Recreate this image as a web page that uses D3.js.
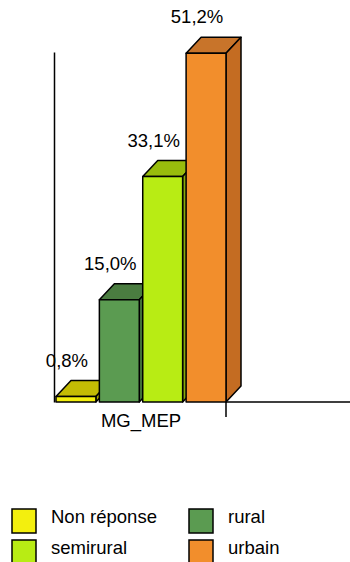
<!DOCTYPE html>
<html>
<head>
<meta charset="utf-8">
<script src="https://cdn.jsdelivr.net/npm/d3@7"></script>
<style>
  body { margin: 0; background: #fff; }
  text { font-family: "Liberation Sans", Arial, sans-serif; fill: #000; }
</style>
</head>
<body>
<div id="chart"></div>
<script>
const categories = ['Non réponse', 'rural', 'semirural', 'urbain'];
const values = [0.8, 15.0, 33.1, 51.2];
const valueLabels = ['0,8%', '15,0%', '33,1%', '51,2%'];
const groupLabel = 'MG_MEP';
const frontColors = ['#f3ef0e', '#5b9b51', '#b8ec14', '#f28e2c'];
const topColors = ['#c4bc04', '#4a7c40', '#98bc0c', '#c8742a'];
const sideColors = ['#aea800', '#437239', '#88aa0a', '#c46c22'];

const width = 350, height = 562;
const depthX = 15, depthY = 16;

const svg = d3.select('#chart')
    .append('svg')
    .attr('width', width)
    .attr('height', height);

const x = d3.scaleBand()
    .domain(categories)
    .range([56, 226])
    .paddingInner(0.08);

const y = d3.scaleLinear()
    .domain([0, 51.4])
    .range([402, 52]);

// vertical axis (no ticks)
svg.append('g')
    .attr('transform', 'translate(54,0)')
    .call(d3.axisLeft(y).tickValues([]).tickSizeOuter(0))
    .select('.domain')
        .attr('stroke', '#000')
        .attr('stroke-width', 1.5);

// floor line to the right of the bars, with its end tick
const xEnd = x.range()[1];
svg.append('path')
    .attr('d', `M${xEnd},${y(0) + 15}V${y(0)}H${width}`)
    .attr('fill', 'none')
    .attr('stroke', '#000')
    .attr('stroke-width', 1.5);

const bars = svg.selectAll('g.bar')
    .data(categories)
    .enter()
        .append('g')
        .attr('class', 'bar');

bars.each(function(d, i) {
    const g = d3.select(this);
    const x0 = x(d), x1 = x(d) + x.bandwidth();
    const yt = y(values[i]), yb = y(0);

    g.append('path')
        .attr('d', `M${x0},${yt}L${x0 + depthX},${yt - depthY}L${x1 + depthX},${yt - depthY}L${x1},${yt}Z`)
        .attr('fill', topColors[i]);
    g.append('path')
        .attr('d', `M${x1},${yt}L${x1 + depthX},${yt - depthY}L${x1 + depthX},${yb - depthY}L${x1},${yb}Z`)
        .attr('fill', sideColors[i]);
    g.append('rect')
        .attr('x', x0)
        .attr('y', yt)
        .attr('width', x.bandwidth())
        .attr('height', yb - yt)
        .attr('fill', frontColors[i]);
    g.selectAll('path, rect')
        .attr('stroke', '#000')
        .attr('stroke-width', 1.5)
        .attr('stroke-linejoin', 'round');

    g.append('text')
        .attr('x', (x0 + x1) / 2 - 9)
        .attr('y', yt - depthY - 14)
        .attr('text-anchor', 'middle')
        .attr('font-size', '18.5px')
        .text(valueLabels[i]);
});

svg.append('text')
    .attr('x', (x.range()[0] + x.range()[1]) / 2)
    .attr('y', 427)
    .attr('text-anchor', 'middle')
    .attr('font-size', '18.5px')
    .text(groupLabel);

// legend
const legend = svg.append('g')
    .attr('class', 'legend');

const items = legend.selectAll('g')
    .data(categories)
    .enter()
        .append('g')
        .attr('transform', (d, i) => `translate(${i % 2 ? 189 : 12},${i < 2 ? 509 : 540})`);

items.append('rect')
    .attr('width', 24)
    .attr('height', 24)
    .attr('fill', (d, i) => frontColors[i])
    .attr('stroke', '#000')
    .attr('stroke-width', 1.5);

items.append('text')
    .attr('x', 39)
    .attr('y', 14)
    .attr('font-size', '18.5px')
    .text(d => d);
</script>
</body>
</html>
